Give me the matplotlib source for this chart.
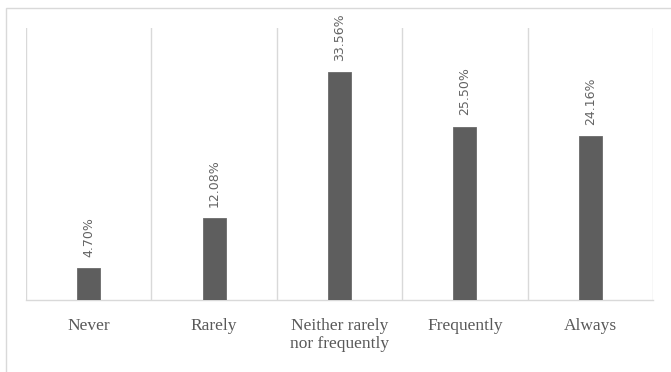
import matplotlib
matplotlib.use("Agg")
import matplotlib.pyplot as plt
from matplotlib.patches import Rectangle

categories = ["Never", "Rarely", "Neither rarely\nnor frequently", "Frequently", "Always"]
values = [4.70, 12.08, 33.56, 25.50, 24.16]
value_labels = ["4.70%", "12.08%", "33.56%", "25.50%", "24.16%"]

W, H = 671, 372
fig = plt.figure(figsize=(W / 100, H / 100), dpi=100)

# outer chart frame
fig.patches.append(Rectangle((6 / W, -0.1), 1.2, 1 - 8 / H + 0.1,
                             transform=fig.transFigure, fill=False,
                             edgecolor="#d9d9d9", linewidth=1.0))

ax = fig.add_axes([26 / W, 1 - 300 / H, (653 - 26) / W, (300 - 28) / H])
n = len(categories)
x = list(range(n))
ax.bar(x, values, width=0.185, color="#5e5e5e", edgecolor="#6a6a6a",
       linewidth=0.6, zorder=3)

ax.set_xlim(-0.5, n - 0.5)
ax.set_ylim(0, 40)

# category separators
for b in range(n + 1):
    ax.axvline(b - 0.5, color="#d9d9d9", linewidth=1.0, zorder=1)
for side in ["left", "right", "top"]:
    ax.spines[side].set_visible(False)
ax.spines["bottom"].set_color("#d9d9d9")
ax.spines["bottom"].set_linewidth(1.0)
ax.set_yticks([])
ax.set_xticks(x)
ax.set_xticklabels(categories, family="Liberation Serif", fontsize=12.5,
                   color="#595959", linespacing=1.2, va="top")
ax.tick_params(axis="x", length=0, pad=13)

for xi, v, lab in zip(x, values, value_labels):
    ax.annotate(lab, (xi, v), xytext=(0, 8), textcoords="offset points",
                rotation=90, ha="center", va="bottom", fontsize=9,
                color="#636363", family="DejaVu Sans")

fig.savefig("out.png", dpi=100, facecolor="white")
